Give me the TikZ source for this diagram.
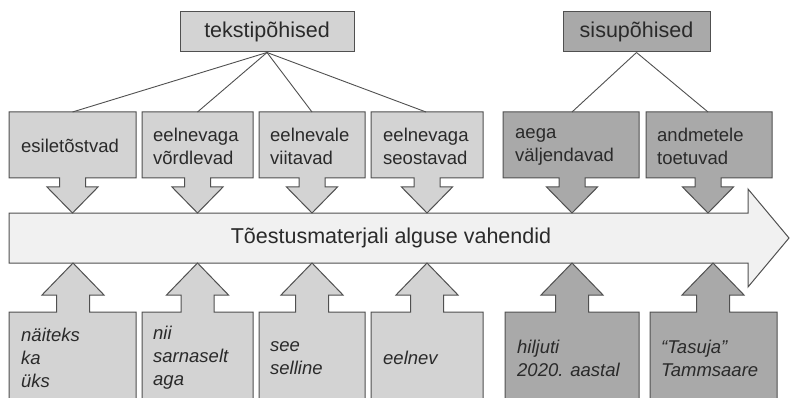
\documentclass[tikz,border=0pt]{standalone}
\usepackage{fontspec}
\setmainfont{Liberation Sans}
\definecolor{lightg}{HTML}{D3D3D3}
\definecolor{darkg}{HTML}{A9A9A9}
\definecolor{paleg}{HTML}{F1F1F1}
\definecolor{edge}{HTML}{505050}
\definecolor{ink}{HTML}{2A2A2A}
\begin{document}
\begin{tikzpicture}[x=1pt,y=-1pt,
  shapeline/.style={draw=edge, line width=1pt, line join=miter},
  conn/.style={draw=edge, line width=0.9pt},
  hdr/.style={shapeline, minimum height=40pt, inner sep=0pt, text=ink, font=\fontsize{21.5}{25}\selectfont},
  lbl/.style={anchor=west, align=left, inner sep=0pt, text=ink, font=\fontsize{18.5}{23}\selectfont},
  ilbl/.style={lbl, font=\fontsize{18.5}{23}\selectfont\itshape},
  mainlbl/.style={inner sep=0pt, text=ink, font=\fontsize{21.5}{25}\selectfont}]
\clip (0,0) rectangle (792,398);
\fill[white] (0,0) rectangle (792,398);
% main arrow
\filldraw[shapeline, fill=paleg] (9,213) -- (748,213) -- (748,189) -- (789,238) -- (748,287) -- (748,263) -- (9,263) -- cycle;
\node[mainlbl] (main) at (391,238) {Tõestusmaterjali alguse vahendid};
% top row boxes with down arrows
\foreach \L/\R/\C/\col in {9/136/72.5/lightg, 142/253/197.5/lightg, 259/365/312/lightg, 371/483/427/lightg, 503/639/572/darkg, 646/772/708/darkg}{
  \filldraw[shapeline, fill=\col] (\L,112) -- (\R,112) -- (\R,178) -- ({\C+13},178) -- ({\C+13},187) -- ({\C+25.5},187) -- (\C,213) -- ({\C-25.5},187) -- ({\C-13},187) -- ({\C-13},178) -- (\L,178) -- cycle;
}
% bottom row boxes with up arrows
\foreach \L/\R/\C/\col in {9/136/73/lightg, 142/253/197.5/lightg, 259/365/312/lightg, 371/483/427/lightg, 505/639/572/darkg, 650/777/713/darkg}{
  \filldraw[shapeline, fill=\col] (\L,404) -- (\L,312) -- ({\C-16.5},312) -- ({\C-16.5},295) -- ({\C-31},295) -- (\C,263) -- ({\C+31},295) -- ({\C+16.5},295) -- ({\C+16.5},312) -- (\R,312) -- (\R,404) -- cycle;
}
% top-row box tops
\coordinate (t1) at (72.5,112);
\coordinate (t2) at (197.5,112);
\coordinate (t3) at (312,112);
\coordinate (t4) at (426,112);
\coordinate (t5) at (572,112);
\coordinate (t6) at (708,112);
% headers
\node[hdr, fill=lightg, minimum width=174pt] (tek) at (267,32) {tekstipõhised};
\node[hdr, fill=darkg, minimum width=147pt] (sisu) at (636.5,32) {sisupõhised};
\draw[conn] (tek.south) -- (t1);
\draw[conn] (tek.south) -- (t2);
\draw[conn] (tek.south) -- (t3);
\draw[conn] (tek.south) -- (t4);
\draw[conn] (sisu.south) -- (t5);
\draw[conn] (sisu.south) -- (t6);
% top labels
\node[lbl] (a1) at (21,146) {esiletõstvad};
\node[lbl] (a2) at (153,146.5) {eelnevaga\\võrdlevad};
\node[lbl] (a3) at (270,146.5) {eelnevale\\viitavad};
\node[lbl] (a4) at (383,146.5) {eelnevaga\\seostavad};
\node[lbl] (a5) at (515,146.5) {aega\\väljendavad};
\node[lbl] (a6) at (657,146.5) {andmetele\\toetuvad};
% bottom labels
\node[ilbl] (b1) at (21,358) {näiteks\\ka\\üks};
\node[ilbl] (b2) at (153,358) {nii\\sarnaselt\\aga};
\node[ilbl] (b3) at (270,358) {see\\selline};
\node[ilbl] (b4) at (383,358) {eelnev};
\node[ilbl] (b5) at (517,358) {hiljuti\\2020. aastal};
\node[ilbl] (b6) at (661,358) {“Tasuja”\\Tammsaare};
\end{tikzpicture}
\end{document}
